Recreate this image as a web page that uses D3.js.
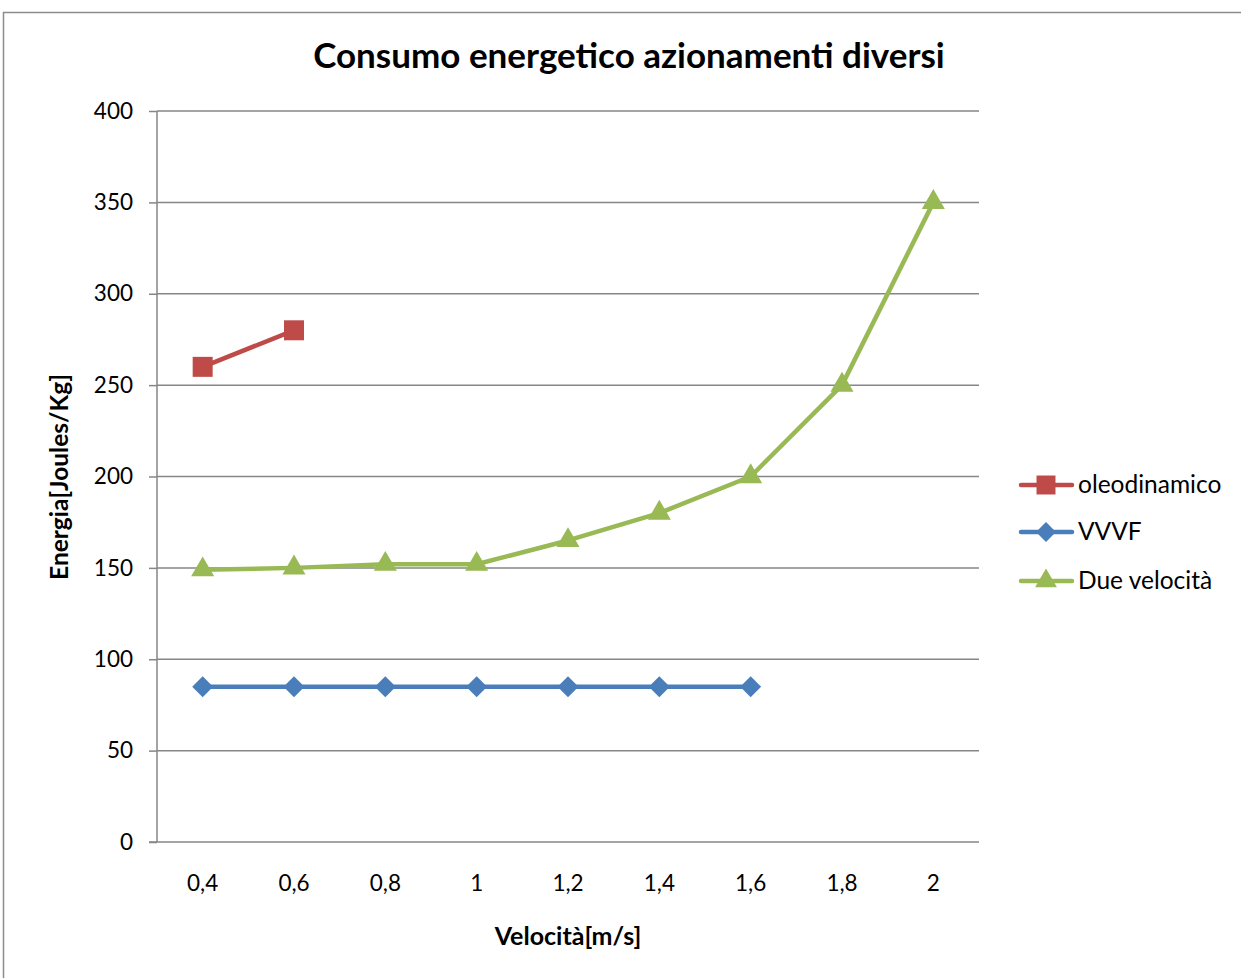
<!DOCTYPE html>
<html><head><meta charset="utf-8">
<script src="https://cdn.jsdelivr.net/npm/d3@7"></script>
<style>body{margin:0;background:#fff}svg{display:block}text{font-family:Lato,"Open Sans",sans-serif}</style>
</head><body>
<svg id="c" width="1241" height="978"></svg>
<script>
const categories = ["0,4","0,6","0,8","1","1,2","1,4","1,6","1,8","2"];
const oleodinamico = [260, 280];
const vvvf = [85, 85, 85, 85, 85, 85, 85];
const dueVelocita = [149, 150, 152, 152, 165, 180, 200, 250, 350];
const yTicks = [0, 50, 100, 150, 200, 250, 300, 350, 400];
const seriesNames = ["oleodinamico", "VVVF", "Due velocità"];
const colors = ["#BE4B48", "#4A7EBB", "#98B954"];

const svg = d3.select("#c");
const L = 157, R = 979, T = 111, B = 842;
const x = d3.scaleBand().domain(categories).range([L, R]);
const cx = c => x(c) + x.bandwidth() / 2;
const y = d3.scaleLinear().domain([0, 400]).range([B, T]);

// outer border
svg.append("rect").attr("x", 3.5).attr("y", 12.5).attr("width", 1250).attr("height", 1000)
  .attr("fill", "none").attr("stroke", "#8c8c8c").attr("stroke-width", 1.5);

// gridlines
svg.append("g").selectAll("line").data(yTicks.filter(d => d > 0)).join("line")
  .attr("x1", L).attr("x2", R).attr("y1", d => y(d)).attr("y2", d => y(d))
  .attr("stroke", "#868686").attr("stroke-width", 1.5);

// y axis
const ya = svg.append("g").attr("transform", `translate(${L},0)`)
  .call(d3.axisLeft(y).tickValues(yTicks).tickSize(8).tickPadding(16));
ya.select(".domain").attr("stroke", "#868686").attr("stroke-width", 1.5).attr("d", `M0,${T}V${B}`);
ya.selectAll(".tick line").attr("stroke", "#868686").attr("stroke-width", 1.5);
ya.selectAll(".tick text").attr("font-size", 22.5).attr("fill", "#000").attr("font-family", "Lato");

// x axis
const xa = svg.append("g").attr("transform", `translate(0,${B})`)
  .call(d3.axisBottom(x).tickSize(0).tickPadding(33));
xa.select(".domain").attr("stroke", "#868686").attr("stroke-width", 1.5).attr("d", `M${L - 8},0H${R}`);
xa.selectAll(".tick text").attr("font-size", 22.5).attr("fill", "#000").attr("font-family", "Lato");

// titles
svg.append("text").attr("x", 629).attr("y", 68).attr("text-anchor", "middle")
  .attr("font-size", 35).attr("font-weight", "bold").text("Consumo energetico azionamenti diversi");
svg.append("text").attr("x", 568).attr("y", 945).attr("text-anchor", "middle")
  .attr("font-size", 25).attr("font-weight", "bold").text("Velocità[m/s]");
svg.append("text").attr("transform", "translate(68,477) rotate(-90)").attr("text-anchor", "middle")
  .attr("font-size", 24.5).attr("font-weight", "bold").text("Energia[Joules/Kg]");

const data = [oleodinamico, vvvf, dueVelocita];
const line = d3.line().x((d, i) => cx(categories[i])).y(d => y(d));
const diamond = { draw(ctx, size) { const r = Math.sqrt(size / 2); ctx.moveTo(0, -r); ctx.lineTo(r, 0); ctx.lineTo(0, r); ctx.lineTo(-r, 0); ctx.closePath(); } };
const symbols = [d3.symbolSquare, diamond, d3.symbolTriangle];
const sizes = [400, 220, 230];

// draw order: VVVF, Due velocità, oleodinamico
[1, 2, 0].forEach(k => {
  svg.append("path").datum(data[k]).attr("d", line).attr("fill", "none")
    .attr("stroke", colors[k]).attr("stroke-width", 4.5).attr("stroke-linejoin", "round");
  svg.append("g").selectAll("path").data(data[k]).join("path")
    .attr("transform", (d, i) => `translate(${cx(categories[i])},${y(d)})`)
    .attr("d", d3.symbol().type(symbols[k]).size(sizes[k])).attr("fill", colors[k]);
});

// legend
const legY = [485, 532, 581];
seriesNames.forEach((n, k) => {
  const g = svg.append("g").attr("transform", `translate(0,${legY[k]})`);
  g.append("line").attr("x1", 1021).attr("x2", 1072).attr("stroke", colors[k]).attr("stroke-width", 4.5).attr("stroke-linecap", "round");
  g.append("path").attr("transform", "translate(1046,0)").attr("d", d3.symbol().type(symbols[k]).size(sizes[k] * 0.9)).attr("fill", colors[k]);
  g.append("text").attr("x", 1078).attr("y", 8).attr("font-size", 24.5).text(n);
});
</script>
</body></html>
